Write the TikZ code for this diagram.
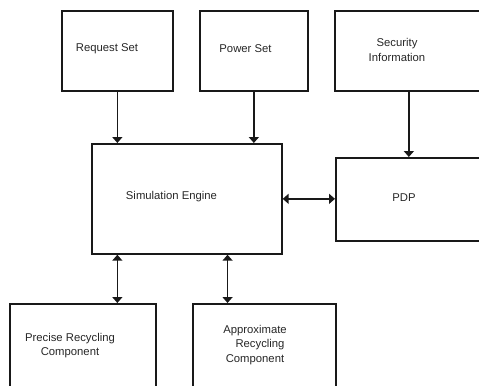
\documentclass[tikz,border=0pt]{standalone}
\usepackage{fontspec}
\setmainfont{Liberation Sans}
\usetikzlibrary{arrows.meta}

\begin{document}
\begin{tikzpicture}
    [x=1bp,y=-1bp,
    block/.style={draw,black!90,line width=1.7bp,anchor=north west,inner sep=0pt},
    label text/.style={align=center,text=black!85,font=\fontsize{11.3bp}{14.5bp}\selectfont,inner sep=0pt},
    flow/.style={-{Triangle[length=6bp,width=10bp]},black!90,line width=1.7bp},
    link/.style={{Triangle[length=6bp,width=10bp]}-{Triangle[length=6bp,width=10bp]},black!90,line width=1.7bp}]

\useasboundingbox (0,0) rectangle (479,385);

%draw boxes
\node[block,minimum width=111bp,minimum height=80bp] (req) at (61,10) {};
\node[block,minimum width=108bp,minimum height=80bp] (pow) at (199,10) {};
\node[block,minimum width=148bp,minimum height=80bp] (sec) at (334,10) {};
\node[block,minimum width=190bp,minimum height=110bp] (sim) at (91,143) {};
\node[block,minimum width=147bp,minimum height=83bp] (pdp) at (335,157) {};
\node[block,minimum width=146bp,minimum height=87bp] (pre) at (9,303) {};
\node[block,minimum width=143bp,minimum height=87bp] (app) at (192,303) {};

%texts inside the boxes
\node[label text] (req-txt) at (107,49) {Request Set};
\node[label text] (pow-txt) at (245.5,49) {Power Set};
\node[label text] (sec-txt) at (397,50) {Security\\Information};
\node[label text] (sim-txt) at (171.5,197) {Simulation Engine};
\node[label text] (pdp-txt) at (404,198) {PDP};
\node[label text] (pre-txt) at (70,345.5) {Precise Recycling\\Component};
\node[label text] (app-txt) at (255,345) {Approximate\\\hspace{10bp}Recycling\\Component};

%inputs
\draw[flow] (req.south) -- (req.south |- sim.north);
\draw[flow] (pow.south) -- (pow.south |- sim.north);
\draw[flow] (sec.south) -- (sec.south |- pdp.north);

%two-way links
\draw[link] (sim.east) -- (sim.east -| pdp.west);
\draw[link] (req.south |- sim.south) -- (req.south |- pre.north);
\draw[link] ([xshift=-36.8bp]app.north |- sim.south) -- ([xshift=-36.8bp]app.north);

\end{tikzpicture}
\end{document}
